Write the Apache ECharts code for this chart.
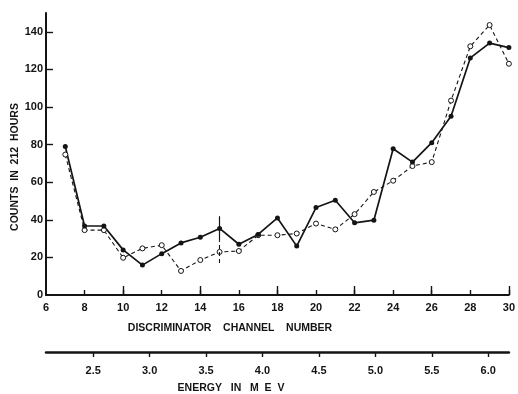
<!DOCTYPE html>
<html>
<head>
<meta charset="utf-8">
<script src="https://cdn.jsdelivr.net/npm/echarts@6/dist/echarts.min.js"></script>
<style>
  html, body { margin: 0; padding: 0; background: #fff; }
  #chart { width: 518px; height: 394px; }
</style>
</head>
<body>
<div id="chart"></div>
<script>
// Discriminator channels and the two sets of counts (212 h runs)
const channels = [7, 8, 9, 10, 11, 12, 13, 14, 15, 16, 17, 18, 19, 20, 21, 22, 23, 24, 25, 26, 27, 28, 29, 30];
const countsSolid = [79, 36.7, 36.7, 24, 15.9, 22, 27.7, 30.7, 35.4, 27, 32.2, 41, 26, 46.5, 50.4, 38.4, 39.8, 77.8, 70.7, 81, 95.1, 126.1, 134, 131.6];
const countsOpen = [74.7, 34.5, 34.5, 19.8, 24.8, 26.5, 12.8, 18.6, 22.9, 23.4, 31.8, 31.8, 32.7, 38, 34.9, 43, 54.8, 60.8, 68.6, 70.7, 103.4, 132.3, 143.6, 123];

// Representative error bars at channel 15: [channel, low, high]
const solidError = [15, 28.9, 41.9];
const openError = [15, 17, 29];

// Axis ticks
const channelTicks = [6, 8, 10, 12, 14, 16, 18, 20, 22, 24, 26, 28, 30];
const channelLongTicks = [10, 14, 18, 22, 26, 30];
const countTicks = [0, 20, 40, 60, 80, 100, 120, 140];
const energyTicks = [2.5, 3.0, 3.5, 4.0, 4.5, 5.0, 5.5, 6.0];
const energyRange = [2.082, 6.183];

const ink = '#141414';
const labelFont = { color: ink, fontFamily: 'Liberation Sans', fontWeight: 'bold', fontSize: 11 };
const titleFont = 'bold 10.5px "Liberation Sans"';

const chart = echarts.init(document.getElementById('chart'), null, { renderer: 'canvas' });

chart.setOption({
  animation: false,
  backgroundColor: '#fff',
  grid: { left: 46, right: 8, top: 13, bottom: 99 },
  xAxis: [
    {
      type: 'value', min: 6, max: 30, position: 'bottom',
      axisLine: { lineStyle: { color: ink, width: 2 } },
      axisTick: { inside: true, length: 5, customValues: channelTicks.slice(1), lineStyle: { color: ink, width: 1.4 } },
      axisLabel: Object.assign({ customValues: channelTicks, margin: 7 }, labelFont),
      splitLine: { show: false }
    },
    {
      type: 'value', min: 6, max: 30, position: 'bottom',
      axisLine: { show: false },
      axisTick: { inside: true, length: 9, customValues: channelLongTicks, lineStyle: { color: ink, width: 1.4 } },
      axisLabel: { show: false },
      splitLine: { show: false }
    },
    {
      type: 'value', min: energyRange[0], max: energyRange[1], position: 'bottom', offset: 57,
      axisLine: { lineStyle: { color: ink, width: 2.5 } },
      axisTick: { inside: false, length: 5, customValues: energyTicks, lineStyle: { color: ink, width: 1.4 } },
      axisLabel: Object.assign({ customValues: energyTicks, margin: 13, formatter: v => v.toFixed(1) }, labelFont),
      splitLine: { show: false }
    }
  ],
  yAxis: {
    type: 'value', min: 0, max: 150,
    axisLine: { show: true, lineStyle: { color: ink, width: 2 } },
    axisTick: { show: true, inside: true, length: 7, customValues: countTicks.slice(1), lineStyle: { color: ink, width: 1.4 } },
    axisLabel: Object.assign({ customValues: countTicks, margin: 3 }, labelFont),
    splitLine: { show: false }
  },
  series: [
    {
      type: 'line', xAxisIndex: 0, yAxisIndex: 0,
      data: channels.map((c, i) => [c, countsOpen[i]]),
      symbol: 'circle', symbolSize: 5,
      itemStyle: { color: '#fff', borderColor: ink, borderWidth: 1 },
      lineStyle: { color: ink, width: 1.1, type: [4, 3] },
      markLine: {
        silent: true, symbol: ['none', 'none'], label: { show: false },
        lineStyle: { color: ink, width: 1.1, type: [4, 3] },
        data: [[{ coord: [openError[0], openError[1]] }, { coord: [openError[0], openError[2]] }]]
      }
    },
    {
      type: 'line', xAxisIndex: 0, yAxisIndex: 0,
      data: channels.map((c, i) => [c, countsSolid[i]]),
      symbol: 'circle', symbolSize: 5,
      itemStyle: { color: ink },
      lineStyle: { color: ink, width: 1.7 },
      markLine: {
        silent: true, symbol: ['none', 'none'], label: { show: false },
        lineStyle: { color: ink, width: 1.2, type: 'solid' },
        data: [[{ coord: [solidError[0], solidError[1]] }, { coord: [solidError[0], solidError[2]] }]]
      }
    }
  ],
  graphic: [
    {
      type: 'text', x: 15, y: 167, rotation: Math.PI / 2,
      style: { text: 'COUNTS  IN  212  HOURS', fill: ink, font: titleFont, align: 'center', verticalAlign: 'middle' }
    },
    {
      type: 'text', x: 230, y: 328,
      style: { text: 'DISCRIMINATOR    CHANNEL    NUMBER', fill: ink, font: titleFont, align: 'center', verticalAlign: 'middle' }
    },
    {
      type: 'text', x: 231, y: 388,
      style: { text: 'ENERGY   IN   M  E  V', fill: ink, font: titleFont, align: 'center', verticalAlign: 'middle' }
    }
  ]
});
</script>
</body>
</html>
